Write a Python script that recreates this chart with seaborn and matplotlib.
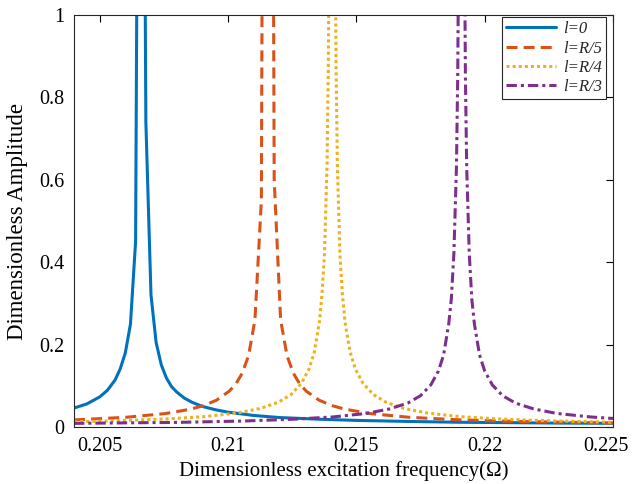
import matplotlib
matplotlib.use("Agg")
import matplotlib.pyplot as plt
import matplotlib.transforms as mtransforms
import seaborn as sns
import numpy as np

# ---- data ----
x_l0 = [0.2040, 0.2045, 0.2050, 0.2053, 0.2056, 0.2058, 0.2060, 0.2062, 0.2064, 0.2066,
        0.2068, 0.2070, 0.2072, 0.2074, 0.2076, 0.2078, 0.2080, 0.2083, 0.2086, 0.2090,
        0.2095, 0.2100, 0.2110, 0.2120, 0.2135, 0.2150, 0.2170, 0.2190, 0.2210, 0.2230, 0.2250]
y_l0 = [0.046, 0.056, 0.073, 0.089, 0.114, 0.141, 0.180, 0.250, 0.450, 3.000,
        0.740, 0.320, 0.205, 0.151, 0.119, 0.098, 0.085, 0.070, 0.060, 0.050,
        0.042, 0.036, 0.028, 0.023, 0.019, 0.016, 0.0135, 0.0115, 0.0105, 0.0095, 0.009]

x_l5 = [0.2040, 0.2060, 0.20755, 0.20855, 0.20905, 0.20955, 0.21005, 0.2103, 0.21055, 0.2108,
        0.21105, 0.2113, 0.21155, 0.2118, 0.21205, 0.2123, 0.21255, 0.2128, 0.21305, 0.21355,
        0.21405, 0.21455, 0.21555, 0.21705, 0.21905, 0.22105, 0.2250]
y_l5 = [0.0172, 0.0234, 0.0325, 0.0433, 0.052, 0.065, 0.087, 0.104, 0.130, 0.173,
        0.260, 0.550, 5.000, 0.600, 0.260, 0.173, 0.130, 0.104, 0.087, 0.065,
        0.052, 0.0433, 0.0325, 0.0236, 0.0173, 0.0137, 0.0097]

x_l4 = [0.20400, 0.20556, 0.20756, 0.20906, 0.21036, 0.21126, 0.21196, 0.21246, 0.21286, 0.21316,
        0.21336, 0.21356, 0.21366, 0.21376, 0.21386, 0.21391, 0.21396, 0.21401,
        0.21411, 0.21416, 0.21421, 0.21426, 0.21436, 0.21446, 0.21456, 0.21476, 0.21496,
        0.21526, 0.21566, 0.21616, 0.21686, 0.21776, 0.21906, 0.22056, 0.22256, 0.22500]
y_l4 = [0.0126, 0.0149, 0.0195, 0.025, 0.034, 0.045, 0.060, 0.079, 0.106, 0.141,
        0.181, 0.254, 0.32, 0.42, 0.64, 0.88, 1.4, 3.0,
        3.0, 1.4, 0.88, 0.64, 0.42, 0.32, 0.254, 0.181, 0.141,
        0.106, 0.079, 0.060, 0.045, 0.034, 0.025, 0.0195, 0.0149, 0.0116]

x_l3 = [0.2040, 0.2081, 0.2106, 0.2126, 0.2141, 0.2154, 0.2163, 0.2170, 0.2175, 0.2179,
        0.2182, 0.2184, 0.2186, 0.2187, 0.2188, 0.2189, 0.21895, 0.2190, 0.21905,
        0.21915, 0.2192, 0.21925, 0.2193, 0.2194, 0.2195, 0.2196, 0.2198, 0.2200,
        0.2203, 0.2207, 0.2212, 0.2219, 0.2228, 0.2241, 0.2250]
y_l3 = [0.0088, 0.0113, 0.0145, 0.019, 0.0245, 0.033, 0.044, 0.058, 0.076, 0.102,
        0.136, 0.175, 0.25, 0.31, 0.42, 0.63, 0.85, 1.3, 2.6,
        2.6, 1.3, 0.85, 0.63, 0.42, 0.31, 0.25, 0.175, 0.136,
        0.102, 0.076, 0.058, 0.044, 0.033, 0.0245, 0.0207]

labels = ["l=0", "l=R/5", "l=R/4", "l=R/3"]
colors = ["#0072BD", "#D95319", "#EDB120", "#7E2F8E"]
xticks = [0.205, 0.21, 0.215, 0.22, 0.225]
xtick_labels = ["0.205", "0.21", "0.215", "0.22", "0.225"]
yticks = [0, 0.2, 0.4, 0.6, 0.8, 1]
ytick_labels = ["0", "0.2", "0.4", "0.6", "0.8", "1"]

sns.set_theme(style="white")
plt.rcParams["font.family"] = ["Liberation Serif", "DejaVu Serif"]
plt.rcParams["mathtext.fontset"] = "stix"

fig = plt.figure(figsize=(6.33, 4.84), dpi=100)
ax = fig.add_axes([74/633, 1-427/484, (613-74)/633, (427-15)/484])

series = [(x_l0, y_l0), (x_l5, y_l5), (x_l4, y_l4), (x_l3, y_l3)]
dash_styles = ["-", (0, (3.6, 2.0)), (0, (1.0, 1.0)), (0, (3.4, 1.3, 1.0, 1.3))]
for (xs, ys), lab, col, ls in zip(series, labels, colors, dash_styles):
    sns.lineplot(x=xs, y=ys, ax=ax, color=col, linewidth=2.2, linestyle=ls,
                 label=lab, estimator=None, sort=False)

ax.set_xlim(0.204, 0.225)
ax.set_ylim(0, 1)
ax.set_xticks(xticks)
ax.set_xticklabels(xtick_labels)
ax.set_yticks(yticks)
ax.set_yticklabels(ytick_labels)
ax.tick_params(direction="in", length=5, width=0.8, top=True, right=True,
               labelsize=14.5, colors="black", pad=7)
for s in ax.spines.values():
    s.set_visible(True)
    s.set_color("#262626")
    s.set_linewidth(0.8)

# keep the last x tick label inside the figure
last = ax.get_xticklabels()[-1]
last.set_transform(last.get_transform() +
                   mtransforms.ScaledTranslation(-7/100, 0, fig.dpi_scale_trans))

ax.set_xlabel("Dimensionless excitation frequency(\u03a9)", fontsize=15, color="black", labelpad=4)
ax.set_ylabel("Dimensionless Amplitude", fontsize=16.5, color="black", labelpad=8)

leg = ax.legend(loc="upper right", bbox_to_anchor=(0.987, 0.995), frameon=True, fancybox=False,
                edgecolor="#262626", framealpha=1, handlelength=3.0, borderpad=0.25,
                labelspacing=0.2, handletextpad=0.4, borderaxespad=0.0,
                prop={"family": ["Liberation Serif"], "style": "italic", "size": 12})
leg.get_frame().set_linewidth(0.8)

fig.savefig("out.png", dpi=100)
